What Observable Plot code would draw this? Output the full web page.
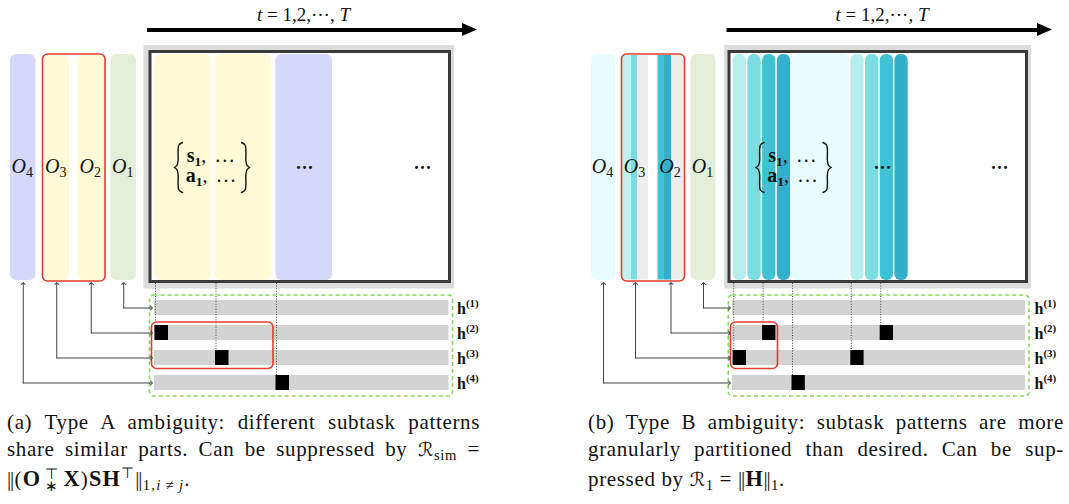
<!DOCTYPE html>
<html>
<head>
<meta charset="utf-8">
<script src="https://cdn.jsdelivr.net/npm/d3@7"></script>
<script src="https://cdn.jsdelivr.net/npm/@observablehq/plot@0.6"></script>
<style>
  html,body{margin:0;padding:0;background:#fff;}
  #fig{position:relative;width:1069px;height:504px;overflow:hidden;background:#fff;}
  #fig svg{display:block;}
  .cap{position:absolute;top:402px;height:102px;font-family:"Liberation Serif","Times New Roman",serif;font-size:21px;letter-spacing:0.65px;color:#111;}
  .ln{position:absolute;left:0;right:0;height:28px;line-height:28px;}
  .j{text-align:justify;text-align-last:justify;}
  .cap sub,.cap sup{font-size:0.7em;line-height:0;}
  .cap sub{vertical-align:-0.3em;}
  .cap sup{vertical-align:0.55em;}
  .cap b{font-size:1.06em;}
  .m{letter-spacing:1.2px;}
  .cal{font-family:"DejaVu Sans","Noto Sans",serif;font-size:0.92em;}
  .nb{letter-spacing:-1.2px;margin-right:1.5px;}
  .stk{display:inline-block;white-space:pre-line;text-align:center;font-size:0.72em;line-height:12px;vertical-align:-0.3em;margin:0 4px;}
</style>
</head>
<body>
<div id="fig"></div>
<script>
// ---------------- data ----------------
const optionIds = [4, 3, 2, 1];          // O_4 … O_1, left to right
const subtaskRows = [1, 2, 3, 4];        // h^(1) … h^(4)
const titleText = "t = 1,2,···, T";
const braceSymbols = ["s", "a"];
const ellipsis = "···";

// Panel (a): time segments, activations of h rows, option column tones
const segmentsA = [
  {start: 0, span: 1, tone: "yellow"},
  {start: 1, span: 1, tone: "yellow"},
  {start: 2, span: 1, tone: "lavender"}
];
const activationsA = [{h: 2, step: 0}, {h: 3, step: 1}, {h: 4, step: 2}];
const optionTonesA = [["lavender"], ["yellow"], ["yellow"], ["sage"]];

// Panel (b)
const segmentsB = [
  {start: 0, span: 1, tone: "cyan1"}, {start: 1, span: 1, tone: "cyan2"},
  {start: 2, span: 1, tone: "cyan3"}, {start: 3, span: 1, tone: "cyan4"},
  {start: 4, span: 4, tone: "ice"},
  {start: 8, span: 1, tone: "cyan1"}, {start: 9, span: 1, tone: "cyan2"},
  {start: 10, span: 1, tone: "cyan3"}, {start: 11, span: 1, tone: "cyan4"}
];
const activationsB = [{h: 3, step: 0}, {h: 2, step: 2}, {h: 4, step: 4}, {h: 3, step: 8}, {h: 2, step: 10}];
const optionTonesB = [["ice"], ["pale", "cyan2", "mist"], ["cyan3", "cyan4", "mist"], ["sage"]];

const captionA = [
  "(a) Type A ambiguity: different subtask patterns",
  'share similar parts. Can be suppressed by <span class="cal">ℛ</span><sub>sim</sub> =',
  '<span class="m"><span class="nb">||</span>(<b>O</b><span class="stk">⊤\n∗</span><b>X</b>)<b>SH</b><sup>⊤</sup><span class="nb">||</span><sub>1,<i>i</i>&thinsp;≠&thinsp;<i>j</i></sub>.</span>'
];
const captionB = [
  "(b) Type B ambiguity: subtask patterns are more",
  "granularly partitioned than desired. Can be sup-",
  'pressed by <span class="cal">ℛ</span><sub>1</sub> = <span class="nb">||</span><b>H</b><span class="nb">||</span><sub>1</sub>.'
];

// ---------------- styles ----------------
const tones = {
  yellow: "#FEFAD6", lavender: "#D5D8FA", sage: "#E3EDD8",
  ice: "#E7FDFD", pale: "#C3F1F0", mist: "#EDEDED",
  cyan1: "#B6EEEC", cyan2: "#7BDDE2", cyan3: "#3FC3D4", cyan4: "#34AFCB"
};
const RED = "#E53A2E", GREEN = "#86DA5C";

// ---------------- layout ----------------
const W = 1069, H = 402;
const L = {
  titleBase: 20.5, arrowY: 29.5, headLen: 15, headHalf: 6.5,
  frameTop: 45, frameBottom: 288.5, innerTop: 51.5, innerBottom: 281.5,
  colTop: 54, colBottom: 280,
  labelBase: 172.5, braceTop: 142, braceH: 50, braceW: 8, braceL: -38, braceR: 29,
  braceBase: 161.5, braceStep: 20, dotsBase: 173,
  linkTop: 283, rowTop: 300, rowPitch: 25, rowH: 15, dashTop: 295, dashBottom: 396
};
const braceHalf = [[1, 0], [0.55, 0.05], [0.45, 0.17], [0.45, 0.36], [0.3, 0.46], [0, 0.5]];
const layoutA = {
  oX: [10, 43.5, 77.5, 110.5], oW: [[25.5], [25.5], [26.5], [25.5]], redO: [42.5, 105],
  t0: 154.5, pitch: 60.5, gap: 4, sqW: 13.5,
  frame: [143.5, 454], inner: [150, 449.5], bars: [154, 448.5], dash: [149.5, 452.5],
  redH: [151.5, 273], hX: 456.5, arrow: [147, 477], titleX: 303, braceX: 212, dotsX: [304, 422]
};
const layoutB = {
  oX: [591, 622, 657.5, 690.5], oW: [[24], [9, 6, 11], [6.5, 7, 12.5], [25]], redO: [621.5, 684.5],
  t0: 732.7, pitch: 14.7, gap: 1.4, sqW: 13.3,
  frame: [724, 1031], inner: [729, 1026.5], bars: [732, 1025], dash: [728.3, 1029],
  redH: [730.5, 777.5], hX: 1034, arrow: [726.5, 1052], titleX: 881.5, braceX: 793.5, dotsX: [882, 999]
};

function buildPanel(P, segments, activations, optionTones) {
  const rowTop = h => L.rowTop + (h - 1) * L.rowPitch;
  const rowMid = h => rowTop(h) + L.rowH / 2;
  const tx = s => P.t0 + s * P.pitch;

  const parts = [], labels = [];
  optionTones.forEach((list, i) => {
    let x = P.oX[i];
    const x0 = x;
    list.forEach((tone, j) => {
      const w = P.oW[i][j];
      parts.push({x1: x, x2: x + w, tone, single: list.length === 1});
      x += w;
    });
    labels.push({id: optionIds[i], cx: (x0 + x) / 2});
  });

  const vLinks = labels.flatMap(o => [
    {id: o.id, x: o.cx, y: rowMid(o.id)},
    {id: o.id, x: o.cx, y: L.linkTop}
  ]);
  const hLinks = labels.flatMap(o => [
    {id: o.id, x: o.cx, y: rowMid(o.id)},
    {id: o.id, x: P.bars[0] - 3, y: rowMid(o.id)}
  ]);

  const head = [
    {x: P.arrow[1] - L.headLen, y1: L.arrowY - L.headHalf, y2: L.arrowY + L.headHalf},
    {x: P.arrow[1], y1: L.arrowY, y2: L.arrowY}
  ];

  const braces = [];
  [-1, 1].forEach(side => [0, 1].forEach(half => {
    const id = `${side}_${half}`;
    const xOff = P.braceX + (side < 0 ? L.braceL : L.braceR);
    braceHalf.forEach(([u, v]) => {
      const uu = side < 0 ? u : 1 - u;
      const vv = half === 0 ? v : 1 - v;
      braces.push({id, x: xOff + uu * L.braceW, y: L.braceTop + vv * L.braceH});
    });
  }));

  return [
    // time arrow + title
    Plot.text([titleText], {x: P.titleX, y: L.titleBase, text: d => d, fontSize: 19, lineAnchor: "bottom", fill: "#111"}),
    Plot.ruleY([L.arrowY], {x1: P.arrow[0], x2: P.arrow[1] - L.headLen + 1, y: d => d, stroke: "#000", strokeWidth: 4}),
    Plot.areaY(head, {x: "x", y1: "y1", y2: "y2", fill: "#000"}),
    // frame
    Plot.rect([P.frame], {x1: d => d[0], x2: d => d[1], y1: L.frameTop, y2: L.frameBottom, fill: "#DCDCDC"}),
    Plot.rect([P.inner], {x1: d => d[0], x2: d => d[1], y1: L.innerTop, y2: L.innerBottom, fill: "#fff", stroke: "#3A3A3A", strokeWidth: 3}),
    // time segments
    Plot.rect(segments, {x1: d => tx(d.start), x2: d => tx(d.start + d.span) - P.gap, y1: L.colTop, y2: L.colBottom, fill: d => tones[d.tone], rx: 6, ry: 6}),
    // option columns
    Plot.rect(parts.filter(d => d.single), {x1: "x1", x2: "x2", y1: L.colTop, y2: L.colBottom, fill: d => tones[d.tone], rx: 6, ry: 6}),
    Plot.rect(parts.filter(d => !d.single), {x1: "x1", x2: "x2", y1: L.colTop + 1, y2: L.colBottom - 0.5, fill: d => tones[d.tone]}),
    Plot.rect([P.redO], {x1: d => d[0], x2: d => d[1], y1: L.colTop, y2: L.colBottom + 1, fill: "none", stroke: RED, strokeWidth: 1.6, rx: 5, ry: 5}),
    Plot.text(labels, {x: d => d.cx - 1, y: L.labelBase, text: d => `O${d.id}`, fontSize: 20, lineAnchor: "bottom", fill: "#111"}),
    // braces and contents
    Plot.line(braces, {x: "x", y: "y", z: "id", curve: "catmull-rom", stroke: "#111", strokeWidth: 1.4}),
    Plot.text(braceSymbols, {x: P.braceX - 1, y: (d, i) => L.braceBase + i * L.braceStep, text: d => `${d}1, ...`, fontSize: 20, lineAnchor: "bottom", fill: "#111"}),
    Plot.text(P.dotsX, {x: d => d, y: L.dotsBase, text: () => ellipsis, fontSize: 18, fontWeight: "bold", lineAnchor: "bottom", fill: "#111"}),
    // h rows
    Plot.rect(subtaskRows, {x1: P.bars[0], x2: P.bars[1], y1: h => rowTop(h), y2: h => rowTop(h) + L.rowH, fill: "#D3D3D3"}),
    Plot.ruleX(activations, {x: d => tx(d.step) + 0.5, y1: L.innerBottom + 1.5, y2: d => rowTop(d.h), stroke: "#333", strokeWidth: 0.9, strokeDasharray: "1,1.6"}),
    Plot.rect(activations, {x1: d => tx(d.step), x2: d => tx(d.step) + P.sqW, y1: d => rowTop(d.h), y2: d => rowTop(d.h) + L.rowH, fill: "#000"}),
    Plot.rect([P.dash], {x1: d => d[0], x2: d => d[1], y1: L.dashTop, y2: L.dashBottom, fill: "none", stroke: GREEN, strokeWidth: 1.6, strokeDasharray: "4,3", rx: 4, ry: 4}),
    Plot.rect([P.redH], {x1: d => d[0], x2: d => d[1], y1: rowTop(2) - 3, y2: rowTop(3) + L.rowH + 3.5, fill: "none", stroke: RED, strokeWidth: 1.6, rx: 5, ry: 5}),
    Plot.line(vLinks, {x: "x", y: "y", z: "id", stroke: "#444", strokeWidth: 1, markerEnd: "arrow"}),
    Plot.line(hLinks, {x: "x", y: "y", z: "id", stroke: "#444", strokeWidth: 1, markerEnd: "arrow"}),
    Plot.text(subtaskRows, {x: P.hX, y: h => rowMid(h) + 5.5, text: h => `h(${h})`, textAnchor: "start", fontSize: 16, lineAnchor: "bottom", fill: "#111"})
  ];
}

const svg = Plot.plot({
  width: W, height: H, margin: 0,
  x: {type: "linear", domain: [0, W], range: [0, W], axis: null},
  y: {type: "linear", domain: [0, H], range: [0, H], axis: null},
  color: {type: "identity"},
  style: {fontFamily: '"Liberation Serif","Times New Roman",serif', background: "#fff"},
  marks: [
    ...buildPanel(layoutA, segmentsA, activationsA, optionTonesA),
    ...buildPanel(layoutB, segmentsB, activationsB, optionTonesB)
  ]
});

// rich text (italic / bold / sub- and superscripts) as tspans
const rich = new Map();
rich.set(titleText, '<tspan font-style="italic">t</tspan> = 1,2,···, <tspan font-style="italic">T</tspan>');
optionIds.forEach(k => rich.set(`O${k}`, `<tspan font-style="italic">O</tspan><tspan font-size="14" dy="4">${k}</tspan>`));
subtaskRows.forEach(k => rich.set(`h(${k})`, `<tspan font-weight="bold">h</tspan><tspan font-weight="bold" font-size="11" dy="-7">(${k})</tspan>`));
braceSymbols.forEach(s => rich.set(`${s}1, ...`, `<tspan font-weight="bold">${s}</tspan><tspan font-weight="bold" font-size="13.5" dy="3.5">1</tspan><tspan dy="-3.5" letter-spacing="2">, ...</tspan>`));
d3.select(svg).selectAll("text").each(function () {
  const r = rich.get(this.textContent);
  if (r) this.innerHTML = r;
});

const fig = document.getElementById("fig");
fig.appendChild(svg);

function addCaption(lines, left, width) {
  const div = document.createElement("div");
  div.className = "cap";
  div.style.left = left + "px";
  div.style.width = width + "px";
  const tops = [6, 33, 63];
  lines.forEach((html, i) => {
    const ln = document.createElement("div");
    ln.className = "ln" + (i < lines.length - 1 ? " j" : "");
    ln.style.top = tops[i] + "px";
    ln.innerHTML = html;
    div.appendChild(ln);
  });
  fig.appendChild(div);
}
addCaption(captionA, 7, 473);
addCaption(captionB, 588, 476);
</script>
</body>
</html>
